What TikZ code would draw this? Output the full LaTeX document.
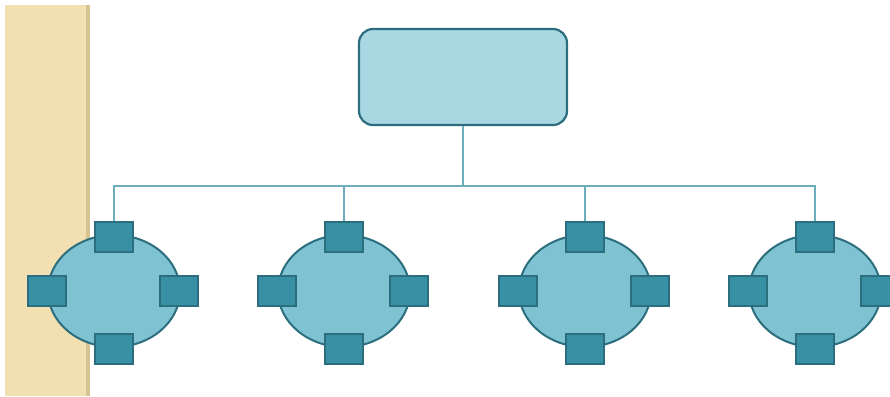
\documentclass[tikz,border=0pt]{standalone}
\usepackage{tikz}
\usetikzlibrary{shapes.geometric}

\definecolor{sand}{HTML}{F2DFB2}
\definecolor{sandedge}{HTML}{D6C393}
\definecolor{boxfill}{HTML}{A9D8E2}
\definecolor{darkteal}{HTML}{2C6E7E}
\definecolor{ovalfill}{HTML}{7FC2D2}
\definecolor{portfill}{HTML}{3890A5}
\definecolor{wire}{HTML}{6DAEBE}

\begin{document}
\begin{tikzpicture}[x=1pt,y=-1pt,
  head/.style={draw=darkteal, line width=2.2pt, fill=boxfill, rounded corners=14pt,
    minimum width=208pt, minimum height=96pt, inner sep=0pt},
  oval/.style={ellipse, draw=darkteal, line width=2pt, fill=ovalfill,
    minimum width=132pt, minimum height=112pt, inner sep=0pt},
  port/.style={draw=darkteal, line width=1.6pt, fill=portfill,
    minimum width=38pt, minimum height=30pt, inner sep=0pt},
  link/.style={wire, line width=1.2pt}]

\useasboundingbox (0,0) rectangle (890,396);

% side strip
\fill[sand] (5,5) rectangle (88,396);
\fill[sandedge] (86,5) rectangle (90,396);

\node[head] (top) at (463,77) {};
\coordinate (bus) at (463,186);
\draw[link] (top.south) -- (bus);

\foreach \i/\x in {1/114,2/344,3/585,4/815}
{   \node[oval] (e\i) at (\x,291) {};
	\node[port, yshift=-3pt] (t\i) at (e\i.north) {};
	\node[port, yshift=-1pt] (b\i) at (e\i.south) {};
	\node[port] (l\i) at (e\i.west) {};
	\node[port, xshift=-2pt] (r\i) at (e\i.east) {};
	\draw[link] (bus) -| (t\i.north);
}

\end{tikzpicture}
\end{document}
